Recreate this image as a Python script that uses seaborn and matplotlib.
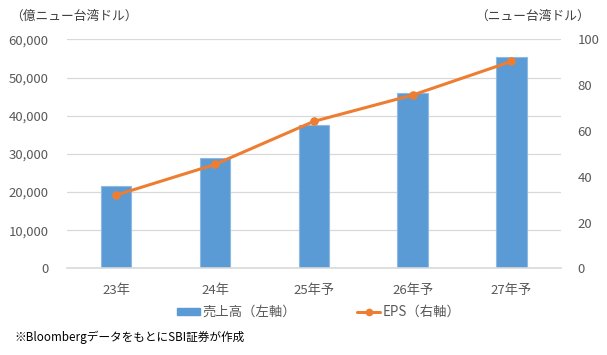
import matplotlib
matplotlib.use("Agg")
import matplotlib.pyplot as plt
import seaborn as sns
import pandas as pd
from matplotlib.patches import Patch
from matplotlib.lines import Line2D
from matplotlib.ticker import FuncFormatter

categories = ["23年", "24年", "25年予", "26年予", "27年予"]
sales = [21500, 28800, 37600, 46000, 55500]
eps = [32.0, 45.4, 64.2, 75.7, 90.4]
left_ticks = [0, 10000, 20000, 30000, 40000, 50000, 60000]
right_ticks = [0, 20, 40, 60, 80, 100]

sns.set_theme(style="white")
plt.rcParams["font.family"] = ["Noto Sans CJK JP", "DejaVu Sans"]

BLUE = "#5B9BD5"
ORANGE = "#ED7D31"
GRID = "#D9D9D9"
TXT = "#595959"

df = pd.DataFrame({"cat": categories, "sales": sales, "eps": eps})

fig = plt.figure(figsize=(6.07, 3.55), dpi=100)
ax = fig.add_axes([0.110, 0.244, 0.814, 0.645])

sns.barplot(data=df, x="cat", y="sales", ax=ax, color=BLUE, width=0.31,
            saturation=1, edgecolor="#8FB8E3", linewidth=0.8, zorder=2)
ax.set_ylim(0, 60000)
ax.set_yticks(left_ticks)
ax.yaxis.set_major_formatter(FuncFormatter(lambda v, p: f"{int(v):,}"))
ax.set_xlim(-0.5, 4.5)
ax.grid(axis="y", color=GRID, linewidth=0.9, zorder=0)
ax.set_axisbelow(True)
for s in ["top", "right", "left"]:
    ax.spines[s].set_visible(False)
ax.spines["bottom"].set_color(GRID)
ax.spines["bottom"].set_linewidth(1.2)
ax.set_xlabel("")
ax.set_ylabel("")
ax.tick_params(axis="y", length=0, pad=13, labelsize=9.5, labelcolor=TXT)
ax.tick_params(axis="x", length=0, pad=11, labelsize=9.5, labelcolor=TXT)

ax2 = ax.twinx()
sns.pointplot(data=df, x="cat", y="eps", ax=ax2, color=ORANGE, markers="o",
              markersize=4.5, linewidth=2.2, errorbar=None)
ax2.set_xlim(-0.5, 4.5)
ax2.set_ylim(0, 100)
ax2.set_yticks(right_ticks)
for s in ["top", "right", "left", "bottom"]:
    ax2.spines[s].set_visible(False)
ax2.set_ylabel("")
ax2.set_xlabel("")
ax2.grid(False)
ax2.tick_params(axis="y", length=0, pad=12, labelsize=9.5, labelcolor=TXT)

fig.text(0.016, 0.955, "（億ニュー台湾ドル）", fontsize=9.2, color="#404040",
         ha="left", va="center")
fig.text(0.972, 0.955, "（ニュー台湾ドル）", fontsize=9.2, color="#404040",
         ha="right", va="center")

handles = [Patch(facecolor=BLUE, edgecolor=BLUE),
           Line2D([0], [0], color=ORANGE, linewidth=2.2, marker="o", markersize=4.5)]
fig.legend(handles, ["売上高（左軸）", "EPS（右軸）"], loc="center",
           bbox_to_anchor=(0.525, 0.121), ncol=2, frameon=False,
           fontsize=9.6, labelcolor=TXT, handlelength=1.7, handletextpad=0.2,
           columnspacing=4.6, handleheight=0.4)

fig.text(0.024, 0.05, "※Bloombergデータをもとに" + "SBI証券が作成",
         fontsize=8.4, color="black", ha="left", va="center")

fig.savefig("out.png", dpi=100)
